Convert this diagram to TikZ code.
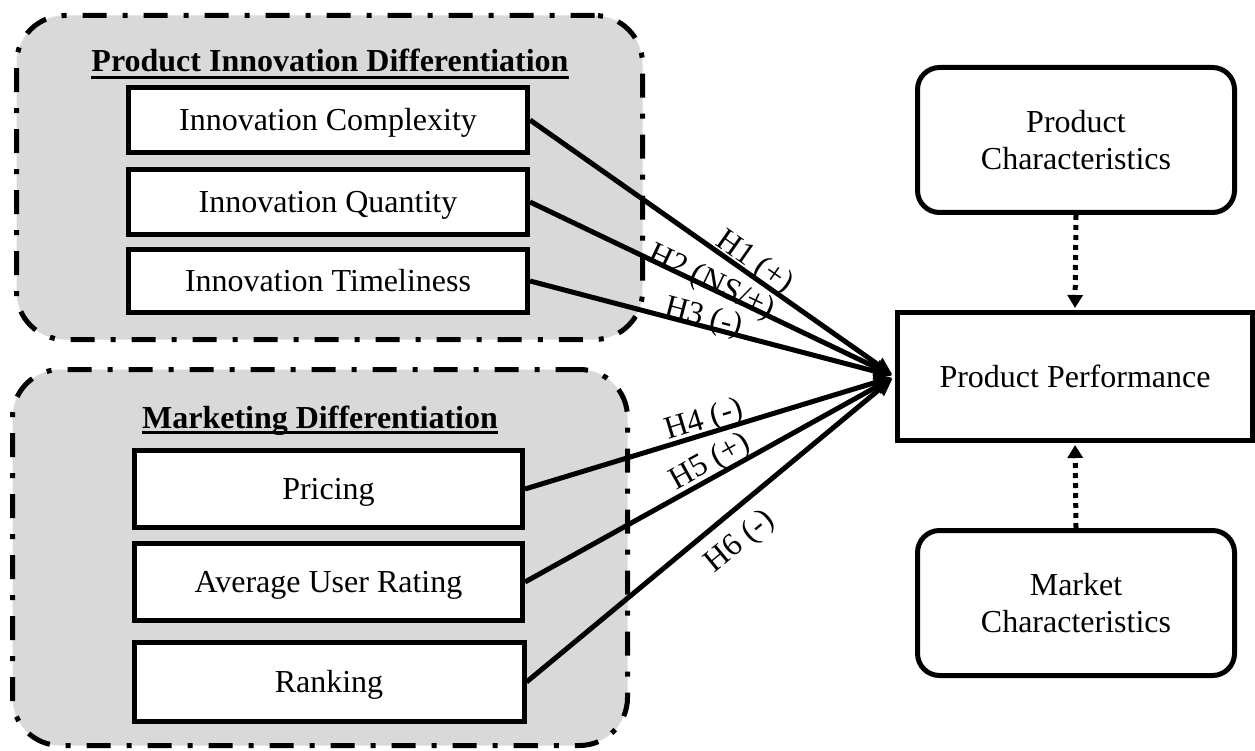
\documentclass[tikz,border=0pt]{standalone}
\usepackage{fontspec}
\setmainfont{Liberation Serif}
\usetikzlibrary{arrows.meta}
\definecolor{grp}{HTML}{D9D9D9}
\begin{document}
\begin{tikzpicture}[x=1pt,y=-1pt,
  txt/.style={font=\fontsize{32pt}{37pt}\selectfont},
  group/.style={draw, fill=grp, line width=5pt, rounded corners=48pt,
    dash pattern=on 24pt off 16pt on 5pt off 16pt, inner sep=0pt},
  box/.style={txt, draw, fill=white, line width=5pt, inner sep=0pt,
    text height=21pt, text depth=0pt, align=center},
  rbox/.style={txt, draw, fill=white, line width=5pt, inner sep=0pt,
    rounded corners=22pt, align=center, minimum width=317pt, minimum height=145pt},
  title/.style={txt, font=\fontsize{32pt}{37pt}\selectfont\bfseries, inner sep=0pt, anchor=base},
  conn/.style={line width=5pt, -{Triangle[length=18pt,width=15pt]}, shorten >=3pt},
  dotarr/.style={line width=5pt, dash pattern=on 5pt off 5pt, -{Triangle[length=13pt,width=15pt]}, shorten >=2pt},
  lbl/.style={txt, sloped, inner sep=0pt}
]
\useasboundingbox (0,0) rectangle (1255,751);

% groups
\node[group, minimum width=626pt, minimum height=324pt] (g1) at (329.5,177.5) {};
\node[group, minimum width=615pt, minimum height=376pt] (g2) at (320,557.5) {};

% titles
\node[title] (t1) at (330,72) {Product Innovation Differentiation};
\draw[line width=2.8pt] ([yshift=-5.5pt]t1.base west) -- ([yshift=-5.5pt]t1.base east);
\node[title] (t2) at (320,428) {Marketing Differentiation};
\draw[line width=2.8pt] ([yshift=-4.5pt]t2.base west) -- ([yshift=-4.5pt]t2.base east);

% left boxes
\node[box, minimum width=399pt, minimum height=65pt] (ic) at (328,120) {Innovation Complexity};
\node[box, minimum width=399pt, minimum height=65pt] (iq) at (328,202) {Innovation Quantity};
\node[box, minimum width=399pt, minimum height=63pt] (it) at (328,281) {Innovation Timeliness};
\node[box, minimum width=388pt, minimum height=77pt] (pr) at (328.5,489) {Pricing};
\node[box, minimum width=388pt, minimum height=77pt] (aur) at (328.5,582) {Average User Rating};
\node[box, minimum width=390pt, minimum height=79pt] (rk) at (329,682) {Ranking};

% right boxes
\node[rbox] (pc) at (1076,140) {Product\\Characteristics};
\node[box, minimum width=355pt, minimum height=128pt] (pp) at (1075,376.5) {Product Performance};
\node[rbox] (mc) at (1076,603) {Market\\Characteristics};

% connectors
\draw[conn] (ic.east) -- node[lbl, pos=0.595, above=-5pt] {H1 (+)} (pp.west);
\draw[conn] (iq.east) -- node[lbl, pos=0.49, above=-12pt] {H2 (NS/+)} (pp.west);
\draw[conn] (it.east) -- node[lbl, pos=0.47, above=-9pt] {H3 (-)} (pp.west);
\draw[conn] (pr.east) -- node[lbl, pos=0.495, above=-4pt] {H4 (-)} (pp.west);
\draw[conn] (aur.east) -- node[lbl, pos=0.52, above=-2.5pt] {H5 (+)} (pp.west);
\draw[conn] (rk.east) -- node[lbl, pos=0.53, below=12pt] {H6 (-)} (pp.west);

\draw[dotarr] (pc.south) -- (pp.north);
\draw[dotarr] (mc.north) -- (pp.south);
\end{tikzpicture}
\end{document}
